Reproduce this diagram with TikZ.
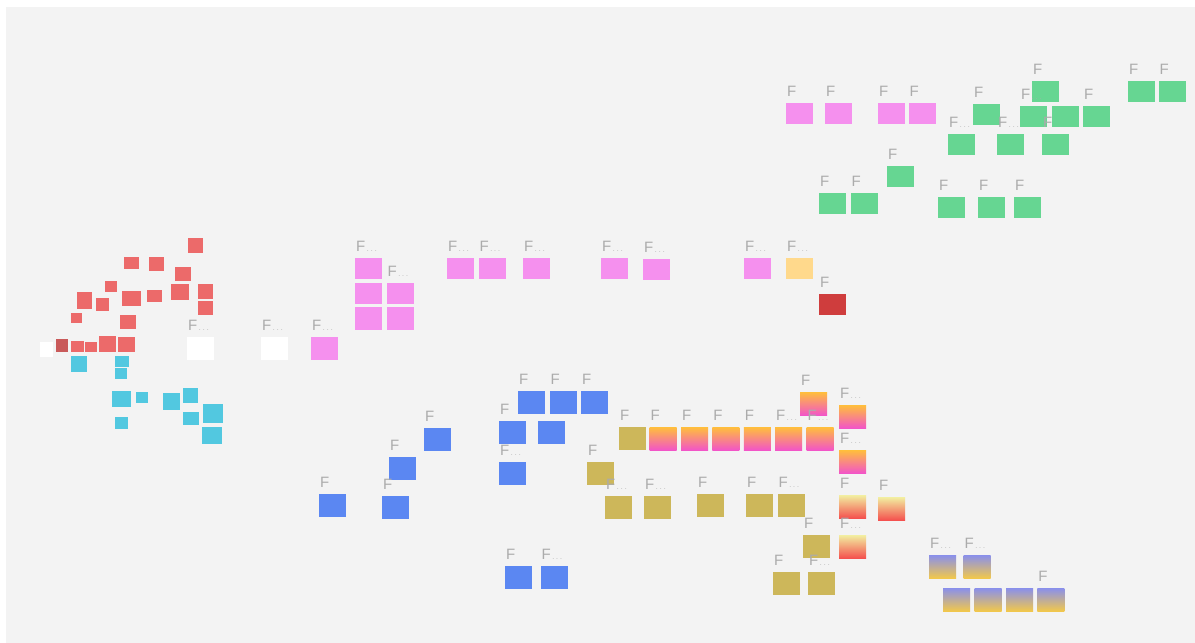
\documentclass[tikz,border=0pt]{standalone}
\usepackage{fontspec}
\setmainfont{Liberation Sans}
\usetikzlibrary{positioning}

\definecolor{board}{HTML}{F3F3F3}
\definecolor{notepink}{HTML}{F590EE}
\definecolor{notegreen}{HTML}{66D692}
\definecolor{notered}{HTML}{EC6A6A}
\definecolor{notedarkred}{HTML}{CF3D3D}
\definecolor{notecyan}{HTML}{52C8E0}
\definecolor{noteblue}{HTML}{5B87F2}
\definecolor{noteolive}{HTML}{CDB75A}
\definecolor{notepeach}{HTML}{FFD98C}
\definecolor{sunsettop}{HTML}{FFBE3C}
\definecolor{sunsetbot}{HTML}{F254C8}
\definecolor{embertop}{HTML}{F2EEA0}
\definecolor{emberbot}{HTML}{F4504E}
\definecolor{dusktop}{HTML}{8A90EA}
\definecolor{duskbot}{HTML}{F2C84B}

\newcommand{\fmore}{F\kern1.5pt{\fontsize{7}{7}\selectfont.\kern2pt.\kern2pt.}}

\begin{document}
\begin{tikzpicture}[
    x=1pt, y=-1pt,
    node distance=4pt,
    note/.style={inner sep=0pt, minimum width=27pt, minimum height=21pt, anchor=north west},
    tall/.style={minimum height=23pt},
    pinknote/.style={note, fill=notepink},
    greennote/.style={note, fill=notegreen},
    bluenote/.style={note, fill=noteblue, tall},
    olivenote/.style={note, fill=noteolive, tall},
    sunset/.style={note, tall, top color=sunsettop, bottom color=sunsetbot},
    ember/.style={note, tall, top color=embertop, bottom color=emberbot},
    dusk/.style={note, tall, top color=dusktop, bottom color=duskbot},
    redbit/.style={note, fill=notered, minimum width=#1},
    cyanbit/.style={note, fill=notecyan, minimum width=#1},
    ftag/.style={above=6pt of #1.north west, anchor=south west, xshift=1pt,
      inner sep=0pt, text=black!33, font=\fontsize{15}{15}\selectfont}
  ]
    \useasboundingbox (0,0) rectangle (1195,643);
    \fill[white] (0,0) rectangle (1195,643);
    \fill[board] (6,7) rectangle (1195,643);

    % left cluster
    \node[redbit=15pt, minimum height=15pt] (r1) at (188,238) {};
    \node[redbit=15pt, minimum height=12pt] (r2) at (124,257) {};
    \node[redbit=15pt, minimum height=14pt] (r3) at (149,257) {};
    \node[redbit=16pt, minimum height=14pt] (r4) at (175,267) {};
    \node[redbit=12pt, minimum height=11pt] (r5) at (105,281) {};
    \node[redbit=15pt, minimum height=17pt] (r6) at (77,292) {};
    \node[redbit=13pt, minimum height=13pt] (r7) at (96,298) {};
    \node[redbit=19pt, minimum height=15pt] (r8) at (122,291) {};
    \node[redbit=15pt, minimum height=12pt] (r9) at (147,290) {};
    \node[redbit=18pt, minimum height=16pt] (r10) at (171,284) {};
    \node[redbit=15pt, minimum height=15pt] (r11) at (198,284) {};
    \node[redbit=15pt, minimum height=14pt] (r12) at (198,301) {};
    \node[redbit=16pt, minimum height=14pt] (r13) at (120,315) {};
    \node[redbit=11pt, minimum height=10pt] (r14) at (71,313) {};
    \node[redbit=12pt, minimum height=13pt, fill=notered!85!black] (r15) at (56,339) {};
    \node[redbit=13pt, minimum height=11pt] (r16) at (71,341) {};
    \node[redbit=12pt, minimum height=10pt] (r17) at (85,342) {};
    \node[redbit=17pt, minimum height=16pt] (r18) at (99,336) {};
    \node[redbit=17pt, minimum height=15pt] (r19) at (118,337) {};
    \node[note, fill=white, minimum width=13pt, minimum height=15pt] (w3) at (40,342) {};
    \node[note, fill=white, tall] (w2) at (187,337) {};
    \node[ftag=w2] (tw2) {\fmore};
    \node[cyanbit=16pt, minimum height=16pt] (c1) at (71,356) {};
    \node[cyanbit=14pt, minimum height=11pt] (c2) at (115,356) {};
    \node[cyanbit=12pt, minimum height=11pt] (c3) at (115,368) {};
    \node[cyanbit=19pt, minimum height=16pt] (c4) at (112,391) {};
    \node[cyanbit=12pt, minimum height=11pt] (c5) at (136,392) {};
    \node[cyanbit=17pt, minimum height=17pt] (c6) at (163,393) {};
    \node[cyanbit=15pt, minimum height=15pt] (c7) at (183,388) {};
    \node[cyanbit=16pt, minimum height=13pt] (c8) at (183,412) {};
    \node[cyanbit=13pt, minimum height=12pt] (c9) at (115,417) {};
    \node[cyanbit=20pt, minimum height=19pt] (c10) at (203,404) {};
    \node[cyanbit=20pt, minimum height=17pt] (c11) at (202,427) {};

    % middle row
    \node[note, fill=white, tall] (w1) at (261,337) {};
    \node[pinknote, tall] (mp12) at (311,337) {};
    \node[pinknote] (mp1) at (355,258) {};
    \node[pinknote, below=3pt of mp1] (mp2) {};
    \node[pinknote, tall, below=3pt of mp2] (mp3) {};
    \node[pinknote, right=4pt of mp2] (mp4) {};
    \node[pinknote, tall, right=4pt of mp3] (mp5) {};
    \node[pinknote] (mp6) at (447,258) {};
    \node[pinknote, right=4pt of mp6] (mp7) {};
    \node[pinknote] (mp8) at (523,258) {};
    \node[pinknote] (mp9) at (601,258) {};
    \node[pinknote] (mp10) at (643,259) {};
    \node[pinknote] (mp11) at (744,258) {};
    \node[note, fill=notepeach] (pe1) at (786,258) {};
    \node[note, fill=notedarkred] (dr1) at (819,294) {};
    \node[ftag=w1] (tw1) {\fmore};
    \node[ftag=mp12] (tmp12) {\fmore};
    \node[ftag=mp1] (tmp1) {\fmore};
    \node[ftag=mp4] (tmp4) {\fmore};
    \node[ftag=mp6] (tmp6) {\fmore};
    \node[ftag=mp7] (tmp7) {\fmore};
    \node[ftag=mp8] (tmp8) {\fmore};
    \node[ftag=mp9] (tmp9) {\fmore};
    \node[ftag=mp10] (tmp10) {\fmore};
    \node[ftag=mp11] (tmp11) {\fmore};
    \node[ftag=pe1] (tpe1) {\fmore};
    \node[ftag=dr1] (tdr1) {F};

    % top right
    \node[pinknote] (tp1) at (786,103) {};
    \node[pinknote] (tp2) at (825,103) {};
    \node[pinknote] (tp3) at (878,103) {};
    \node[pinknote, right=3pt of tp3] (tp4) {};
    \node[greennote] (g1) at (973,104) {};
    \node[greennote] (g2) at (1032,81) {};
    \node[greennote] (g3) at (1020,106) {};
    \node[greennote, right=4pt of g3] (g4) {};
    \node[greennote, right=4pt of g4] (g5) {};
    \node[greennote] (g6) at (1128,81) {};
    \node[greennote, right=3pt of g6] (g7) {};
    \node[greennote] (g8) at (948,134) {};
    \node[greennote] (g9) at (997,134) {};
    \node[greennote] (g10) at (1042,134) {};
    \node[greennote] (g11) at (887,166) {};
    \node[greennote] (g12) at (819,193) {};
    \node[greennote, right=4pt of g12] (g13) {};
    \node[greennote] (g14) at (938,197) {};
    \node[greennote] (g15) at (978,197) {};
    \node[greennote] (g16) at (1014,197) {};
    \node[ftag=tp1] (ttp1) {F};
    \node[ftag=tp2] (ttp2) {F};
    \node[ftag=tp3] (ttp3) {F};
    \node[ftag=tp4] (ttp4) {F};
    \node[ftag=g1] (tg1) {F};
    \node[ftag=g2] (tg2) {F};
    \node[ftag=g3] (tg3) {\fmore};
    \node[ftag=g5] (tg5) {F};
    \node[ftag=g6] (tg6) {F};
    \node[ftag=g7] (tg7) {F};
    \node[ftag=g8] (tg8) {\fmore};
    \node[ftag=g9] (tg9) {\fmore};
    \node[ftag=g10] (tg10) {F};
    \node[ftag=g11] (tg11) {F};
    \node[ftag=g12] (tg12) {F};
    \node[ftag=g13] (tg13) {F};
    \node[ftag=g14] (tg14) {F};
    \node[ftag=g15] (tg15) {F};
    \node[ftag=g16] (tg16) {F};

    % blue
    \node[bluenote] (b1) at (518,391) {};
    \node[bluenote, right=4pt of b1] (b2) {};
    \node[bluenote, right=4pt of b2] (b3) {};
    \node[bluenote] (b4) at (499,421) {};
    \node[bluenote] (b5) at (538,421) {};
    \node[bluenote] (b6) at (424,428) {};
    \node[bluenote] (b7) at (499,462) {};
    \node[bluenote] (b8) at (389,457) {};
    \node[bluenote] (b9) at (319,494) {};
    \node[bluenote] (b10) at (382,496) {};
    \node[bluenote] (b11) at (505,566) {};
    \node[bluenote, right=8pt of b11] (b12) {};
    \node[ftag=b1] (tb1) {F};
    \node[ftag=b2] (tb2) {F};
    \node[ftag=b3] (tb3) {F};
    \node[ftag=b4] (tb4) {F};
    \node[ftag=b6] (tb6) {F};
    \node[ftag=b7] (tb7) {\fmore};
    \node[ftag=b8] (tb8) {F};
    \node[ftag=b9] (tb9) {F};
    \node[ftag=b10] (tb10) {F};
    \node[ftag=b11] (tb11) {F};
    \node[ftag=b12] (tb12) {\fmore};

    % olive and gradients
    \node[olivenote] (o1) at (619,427) {};
    \node[sunset, right=3pt of o1] (s1) {};
    \node[sunset, right=4pt of s1] (s2) {};
    \node[sunset, right=4pt of s2] (s3) {};
    \node[sunset, right=4pt of s3] (s4) {};
    \node[sunset, right=4pt of s4] (s5) {};
    \node[sunset, right=4pt of s5] (s6) {};
    \node[sunset] (s7) at (800,392) {};
    \node[sunset] (s8) at (839,405) {};
    \node[sunset] (s9) at (839,450) {};
    \node[olivenote] (o2) at (587,462) {};
    \node[olivenote] (o3) at (605,496) {};
    \node[olivenote] (o4) at (644,496) {};
    \node[olivenote] (o5) at (697,494) {};
    \node[olivenote] (o6) at (746,494) {};
    \node[olivenote, right=4pt of o6] (o7) {};
    \node[ember] (e1) at (839,495) {};
    \node[ember] (e2) at (878,497) {};
    \node[olivenote] (o8) at (803,535) {};
    \node[ember] (e3) at (839,535) {};
    \node[olivenote] (o9) at (773,572) {};
    \node[olivenote] (o10) at (808,572) {};
    \node[ftag=o1] (to1) {F};
    \node[ftag=s1] (ts1) {F};
    \node[ftag=s2] (ts2) {F};
    \node[ftag=s3] (ts3) {F};
    \node[ftag=s4] (ts4) {F};
    \node[ftag=s5] (ts5) {\fmore};
    \node[ftag=s6] (ts6) {\fmore};
    \node[ftag=s7] (ts7) {F};
    \node[ftag=s8] (ts8) {\fmore};
    \node[ftag=s9] (ts9) {\fmore};
    \node[ftag=o2] (to2) {F};
    \node[ftag=o3] (to3) {\fmore};
    \node[ftag=o4] (to4) {\fmore};
    \node[ftag=o5] (to5) {F};
    \node[ftag=o6] (to6) {F};
    \node[ftag=o7] (to7) {\fmore};
    \node[ftag=e1] (te1) {F};
    \node[ftag=e2] (te2) {F};
    \node[ftag=o8] (to8) {F};
    \node[ftag=e3] (te3) {\fmore};
    \node[ftag=o9] (to9) {F};
    \node[ftag=o10] (to10) {\fmore};

    % bottom right
    \node[dusk] (d1) at (929,555) {};
    \node[dusk, right=7pt of d1] (d2) {};
    \node[dusk] (d3) at (943,588) {};
    \node[dusk, right=4pt of d3] (d4) {};
    \node[dusk, right=4pt of d4] (d5) {};
    \node[dusk, right=4pt of d5] (d6) {};
    \node[ftag=d1] (td1) {\fmore};
    \node[ftag=d2] (td2) {\fmore};
    \node[ftag=d6] (td6) {F};
  \end{tikzpicture}
\end{document}
